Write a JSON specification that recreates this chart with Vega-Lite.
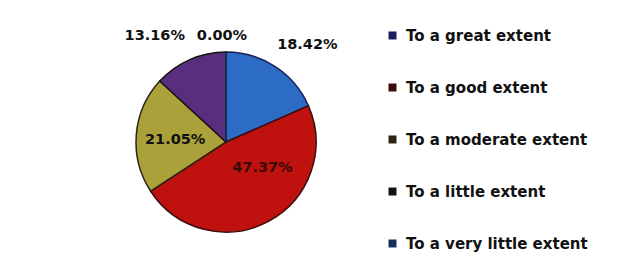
{
  "$schema": "https://vega.github.io/schema/vega-lite/v6.json",
  "width": 452,
  "height": 284,
  "autosize": "none",
  "padding": {"left": 0, "top": 0, "right": 190, "bottom": 0},
  "background": "white",
  "config": {
    "view": {"stroke": null},
    "font": "DejaVu Sans",
    "text": {"font": "DejaVu Sans", "fontSize": 14.5, "fontWeight": "bold"},
    "legend": {
      "orient": "none", "legendX": 385, "legendY": 28,
      "symbolType": "square", "symbolSize": 16, "symbolStrokeWidth": 4,
      "labelFont": "DejaVu Sans", "labelFontSize": 15, "labelFontWeight": "bold", "labelColor": "#111",
      "rowPadding": 31, "labelOffset": 6, "labelLimit": 300
    }
  },
  "data": {"values": [
    {"category": "To a great extent", "value": 0.1842, "i": 1},
    {"category": "To a good extent", "value": 0.4737, "i": 2},
    {"category": "To a moderate extent", "value": 0.2105, "i": 3},
    {"category": "To a little extent", "value": 0.1316, "i": 4},
    {"category": "To a very little extent", "value": 0.0, "i": 5}
  ]},
  "encoding": {
    "theta": {"field": "value", "type": "quantitative", "stack": true},
    "order": {"field": "i", "type": "quantitative"}
  },
  "layer": [
    {
      "mark": {"type": "arc", "radius": 90, "strokeWidth": 1.5},
      "encoding": {
        "color": {
          "field": "category", "type": "nominal", "sort": null,
          "scale": {
            "domain": ["To a great extent", "To a good extent", "To a moderate extent", "To a little extent", "To a very little extent"],
            "range": ["#2c6cc4", "#bf120e", "#aaa13a", "#5a2e7e", "#2a5fa8"]
          },
          "legend": {"title": null}
        },
        "stroke": {
          "field": "category", "type": "nominal", "sort": null,
          "scale": {
            "domain": ["To a great extent", "To a good extent", "To a moderate extent", "To a little extent", "To a very little extent"],
            "range": ["#1c1f5e", "#3a0c10", "#2c2412", "#141414", "#16305e"]
          },
          "legend": {"title": null}
        }
      }
    },
    {
      "mark": {"type": "text", "radius": 106, "dx": -4, "fill": "#111"},
      "encoding": {
        "text": {"field": "value", "type": "quantitative", "format": ".2%"},
        "opacity": {"condition": {"test": "datum.category === 'To a very little extent'", "value": 1}, "value": 0}
      }
    },
    {
      "mark": {"type": "text", "radius": 125, "dx": -21, "dy": 8, "fill": "#111"},
      "encoding": {
        "text": {"field": "value", "type": "quantitative", "format": ".2%"},
        "opacity": {"condition": {"test": "datum.category === 'To a little extent'", "value": 1}, "value": 0}
      }
    },
    {
      "mark": {"type": "text", "radius": 125, "dx": 13, "dy": 8, "fill": "#111"},
      "encoding": {
        "text": {"field": "value", "type": "quantitative", "format": ".2%"},
        "opacity": {"condition": {"test": "datum.category === 'To a great extent'", "value": 1}, "value": 0}
      }
    },
    {
      "mark": {"type": "text", "radius": 51, "dy": 2, "fill": "#111"},
      "encoding": {
        "text": {"field": "value", "type": "quantitative", "format": ".2%"},
        "opacity": {"condition": {"test": "datum.category === 'To a moderate extent'", "value": 1}, "value": 0}
      }
    },
    {
      "mark": {"type": "text", "radius": 45, "dx": 15, "dy": -14, "fill": "#3b0808"},
      "encoding": {
        "text": {"field": "value", "type": "quantitative", "format": ".2%"},
        "opacity": {"condition": {"test": "datum.category === 'To a good extent'", "value": 1}, "value": 0}
      }
    }
  ]
}
